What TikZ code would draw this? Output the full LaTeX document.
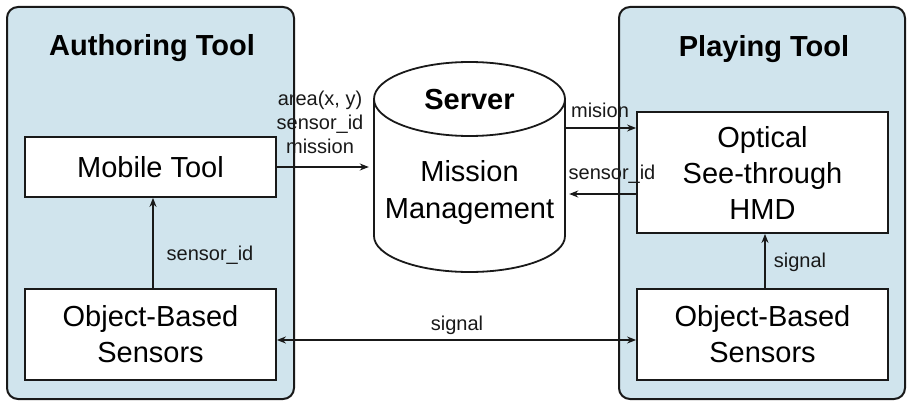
\documentclass[tikz,border=0pt]{standalone}
\usepackage{fontspec}
\setmainfont{Liberation Sans}
\usetikzlibrary{arrows.meta}
\definecolor{panelblue}{RGB}{208,228,237}
\definecolor{inkc}{RGB}{25,25,25}
\tikzset{
  panel/.style={draw=inkc, line width=2pt, fill=panelblue, rounded corners=11pt},
  boxnode/.style={draw=inkc, line width=1.8pt, fill=white, minimum width=251pt, align=center,
     font=\fontsize{29}{36}\selectfont, inner sep=0pt},
  title/.style={font=\fontsize{29}{34}\selectfont\bfseries},
  lbl/.style={font=\fontsize{20}{24}\selectfont, align=center, inner sep=0pt, text=inkc},
  conn/.style={draw=inkc, line width=1.6pt, -{Stealth[length=9pt,width=7pt]}},
  biconn/.style={draw=inkc, line width=1.6pt, {Stealth[length=9pt,width=7pt]}-{Stealth[length=9pt,width=7pt]}}
}
\begin{document}
\begin{tikzpicture}[x=1pt,y=-1pt]
\useasboundingbox (0,0) rectangle (907,401);
\fill[white] (0,0) rectangle (907,401);
% panels
\draw[panel] (7,7) rectangle (294,399);
\draw[panel] (619,7) rectangle (905,399);
\node[title] (tauth) at (152,48) {Authoring Tool};
\node[title] (tplay) at (764,49) {Playing Tool};
% boxes
\node[boxnode, minimum height=60pt] (mob) at (150.5,167) {Mobile Tool};
\node[boxnode, minimum height=91pt] (obsl) at (150.5,334.5) {Object-Based\\Sensors};
\node[boxnode, minimum height=121pt] (hmd) at (762.5,172.5) {Optical\\See-through\\HMD};
\node[boxnode, minimum height=91pt] (obsr) at (762.5,334.5) {Object-Based\\Sensors};
% server cylinder
\draw[draw=inkc, line width=1.8pt, fill=white]
  (374,99) -- (374,236) .. controls (374,255.9) and (416.8,272) .. (469.5,272)
  .. controls (522.2,272) and (565,255.9) .. (565,236) -- (565,99);
\draw[draw=inkc, line width=1.8pt, fill=white] (469.5,99) ellipse [x radius=95.5, y radius=37];
\node[minimum width=191pt, minimum height=174pt, inner sep=0pt] (srv) at (469.5,167) {};
\node[title] (tsrv) at (469.5,100) {Server};
\node[font=\fontsize{29}{37}\selectfont, align=center] (mm) at (469.5,193) {Mission\\Management};
% connectors
\coordinate (ym) at (0,128);
\coordinate (ys) at (0,194);
\draw[conn] (mob.east) -- ([xshift=-5pt]mob.east -| srv.west);
\draw[conn] (srv.east |- ym) -- (hmd.west |- ym);
\draw[conn] (hmd.west |- ys) -- ([xshift=4pt]srv.east |- ys);
\draw[conn] ([xshift=2.5pt]obsl.north) -- ([xshift=2.5pt]mob.south);
\draw[conn] ([xshift=2.5pt]obsr.north) -- ([xshift=2.5pt]hmd.south);
\draw[biconn] (obsl.east |- 0,340) -- (obsr.west |- 0,340);
% labels
\node[lbl] (l1) at (320,122) {area(x, y)\\sensor\_id\\mission};
\node[lbl] (l2) at (600,110) {mision};
\node[lbl] (l3) at (612,174) {sensor\_id};
\node[lbl] (l4) at (210,255) {sensor\_id};
\node[lbl] (l5) at (800,262) {signal};
\node[lbl] (l6) at (457,325) {signal};
\end{tikzpicture}
\end{document}
